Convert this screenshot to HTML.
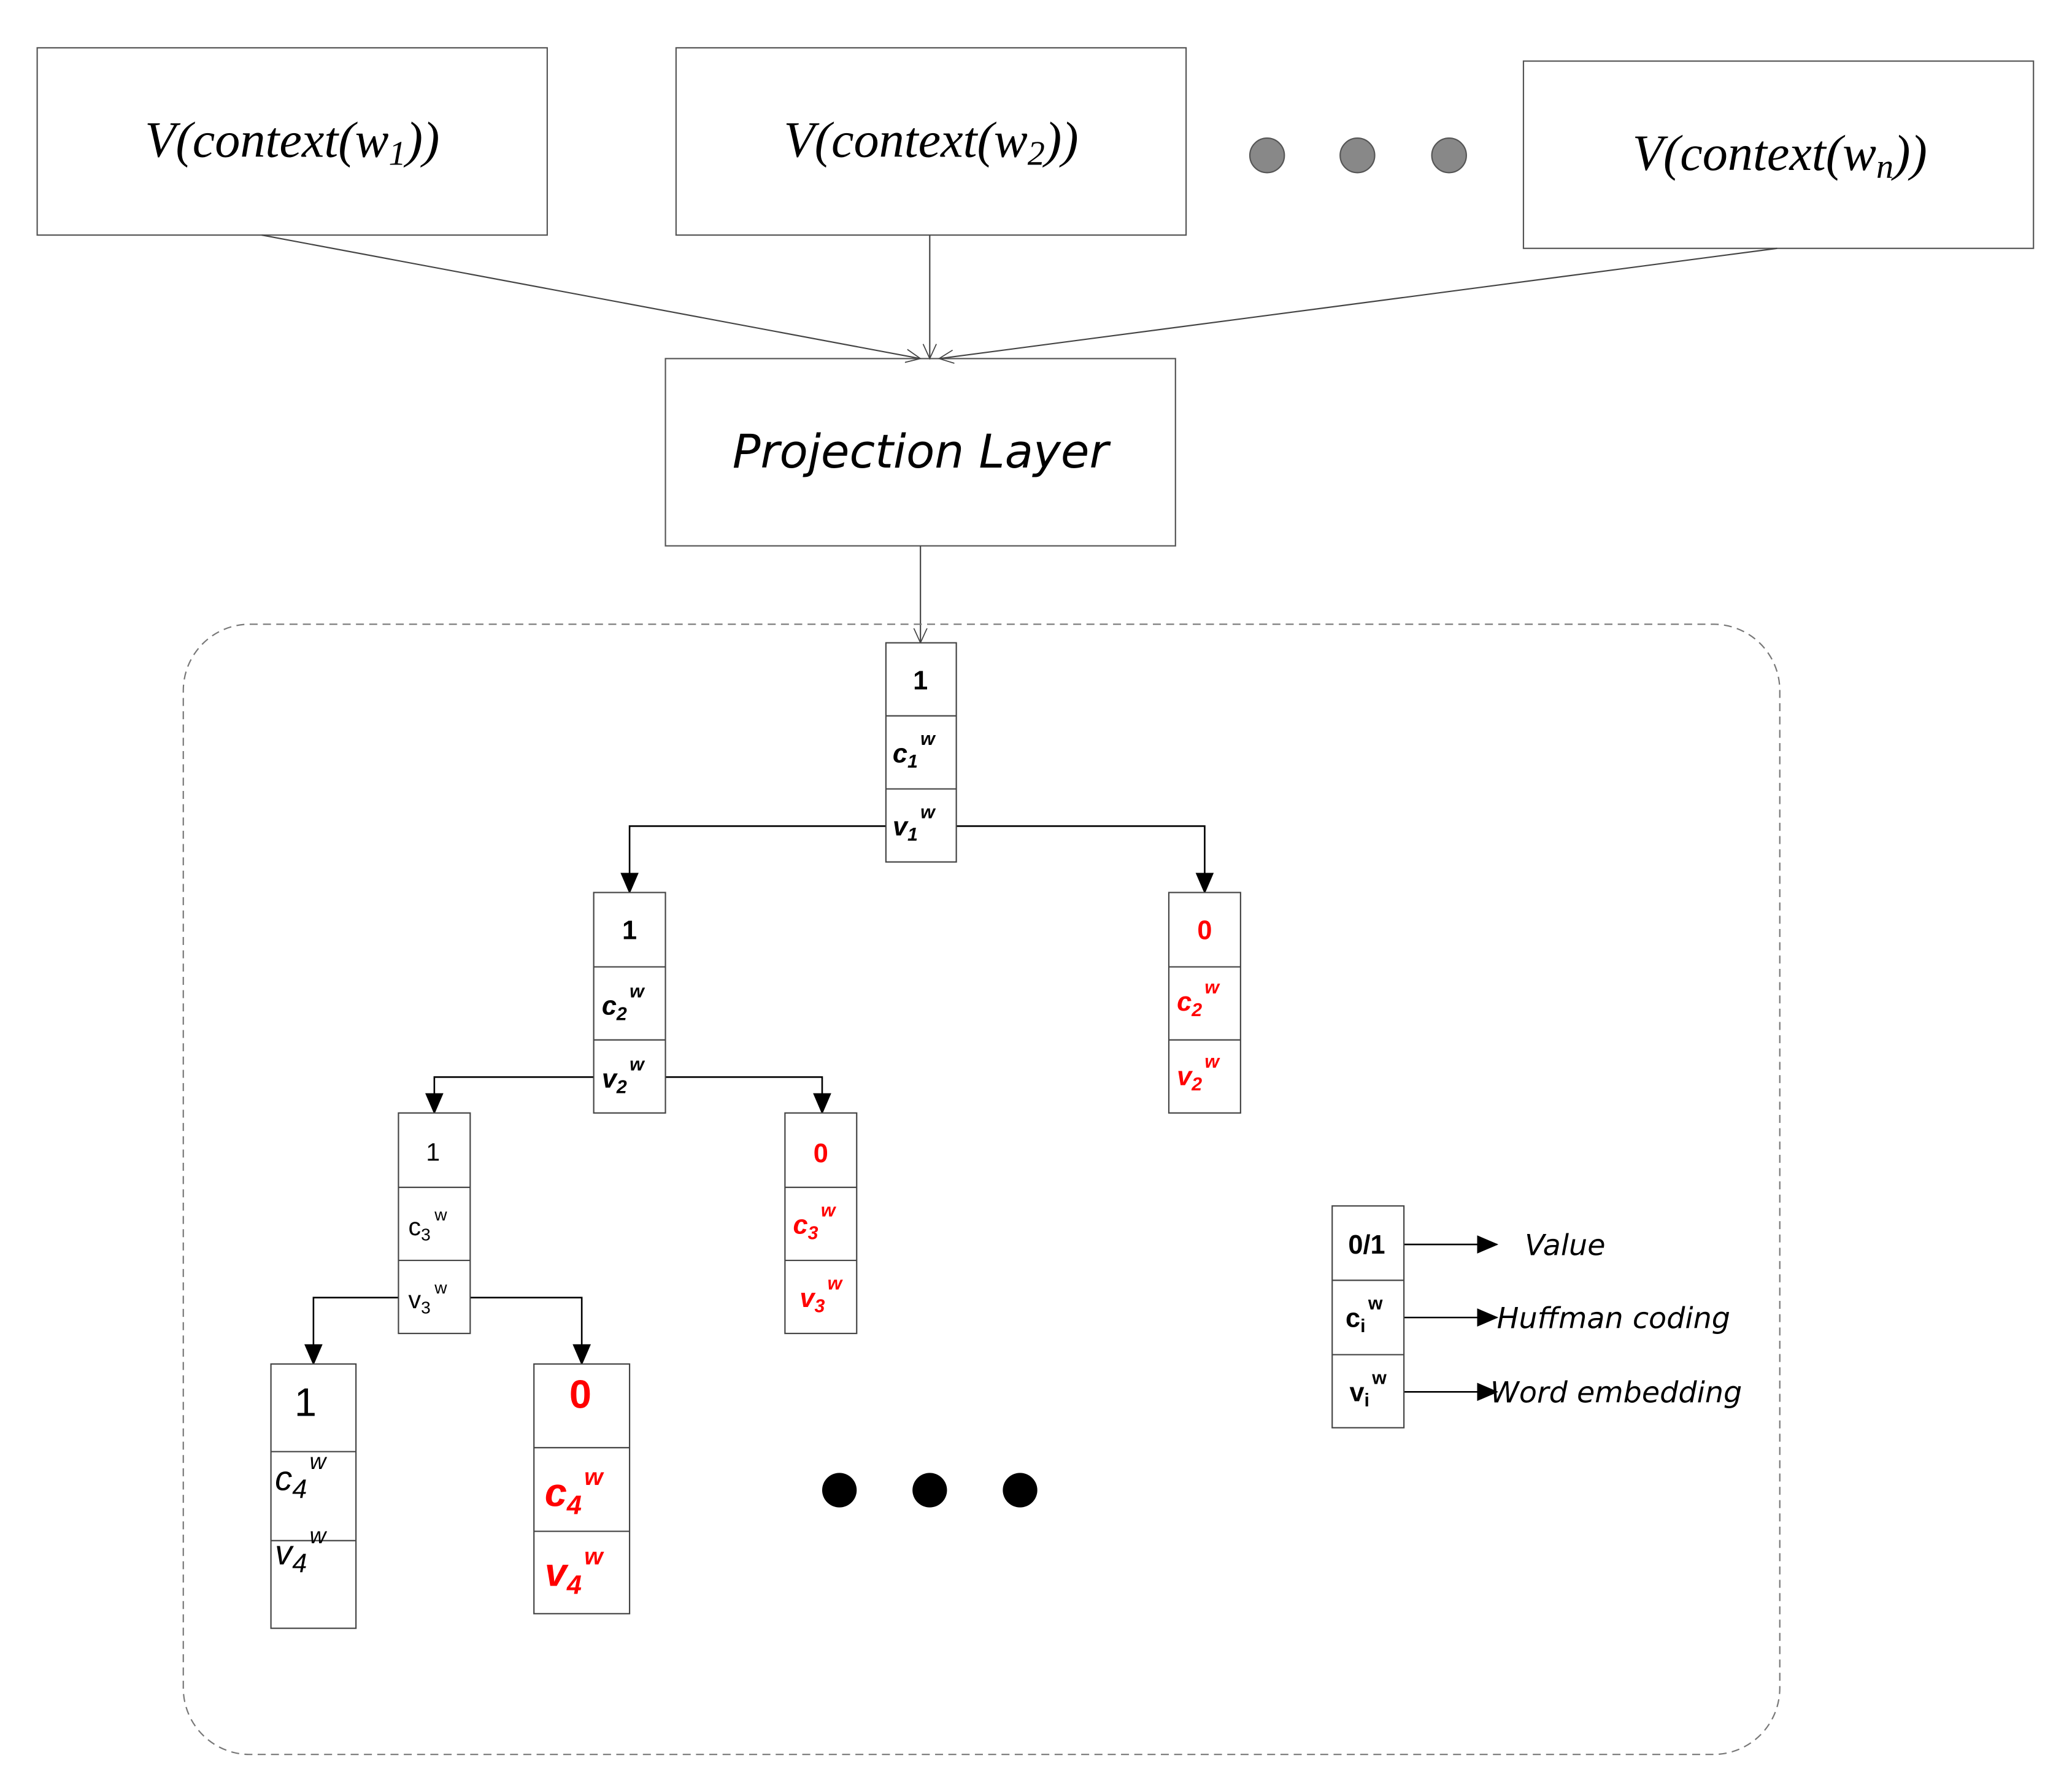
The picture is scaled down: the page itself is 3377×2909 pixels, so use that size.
<!DOCTYPE html>
<html><head><meta charset="utf-8"><style>html,body{margin:0;padding:0;background:#fff}svg{display:block}</style></head>
<body>
<svg width="3377" height="2909" viewBox="0 0 1560 1344" preserveAspectRatio="none" xmlns="http://www.w3.org/2000/svg">
<defs>
<marker id="open" viewBox="0 0 12 12" refX="11" refY="6" markerWidth="12" markerHeight="12" markerUnits="userSpaceOnUse" orient="auto"><path d="M0,1 L11,6 L0,11" fill="none" stroke="#444" stroke-width="0.8"/></marker>
<marker id="solid" viewBox="0 0 14 14" refX="13" refY="7" markerWidth="16" markerHeight="16" markerUnits="userSpaceOnUse" orient="auto"><path d="M0,1 L14,7 L0,13 z" fill="#000"/></marker>
</defs>
<g fill="#fff" stroke="#555" stroke-width="1">
<rect x="28" y="36" width="384" height="141"/>
<rect x="509" y="36" width="384" height="141"/>
<rect x="1147" y="46" width="384" height="141"/>
<rect x="501" y="270" width="384" height="141"/>
</g>
<g font-family="Liberation Serif, serif" font-style="italic" font-size="38" text-anchor="middle" fill="#000">
<text x="220" y="118">V(context(w<tspan font-size="26" dy="6">1</tspan><tspan dy="-6">))</tspan></text>
<text x="701" y="118">V(context(w<tspan font-size="26" dy="6">2</tspan><tspan dy="-6">))</tspan></text>
<text x="1340" y="128">V(context(w<tspan font-size="26" dy="6">n</tspan><tspan dy="-6">))</tspan></text>
</g>
<text x="693" y="352" font-family="DejaVu Sans, sans-serif" font-style="italic" font-size="35" text-anchor="middle">Projection Layer</text>
<g fill="#888" stroke="#555"><circle cx="954" cy="117" r="13"/><circle cx="1022" cy="117" r="13"/><circle cx="1091" cy="117" r="13"/></g>
<g stroke="#444" stroke-width="1" fill="none">
<line x1="197" y1="177" x2="693" y2="270" marker-end="url(#open)"/>
<line x1="700" y1="177" x2="700" y2="270" marker-end="url(#open)"/>
<line x1="1338" y1="187" x2="707" y2="270" marker-end="url(#open)"/>
<line x1="693" y1="411" x2="693" y2="484" marker-end="url(#open)"/>
</g>
<rect x="138" y="470" width="1202" height="851" rx="50" fill="none" stroke="#777" stroke-dasharray="6,4"/>
<g stroke="#000" stroke-width="1.2" fill="none">
<polyline points="667,622 474,622 474,672" marker-end="url(#solid)"/>
<polyline points="720,622 907,622 907,672" marker-end="url(#solid)"/>
<polyline points="447,811 327,811 327,838" marker-end="url(#solid)"/>
<polyline points="501,811 619,811 619,838" marker-end="url(#solid)"/>
<polyline points="300,977 236,977 236,1027" marker-end="url(#solid)"/>
<polyline points="354,977 438,977 438,1027" marker-end="url(#solid)"/>
<line x1="1057" y1="937" x2="1127" y2="937" marker-end="url(#solid)"/>
<line x1="1057" y1="992" x2="1127" y2="992" marker-end="url(#solid)"/>
<line x1="1057" y1="1048" x2="1127" y2="1048" marker-end="url(#solid)"/>
</g>
<g fill="#fff" stroke="#444" stroke-width="1">
<rect x="667" y="484" width="53" height="165"/><line x1="667" y1="539" x2="720" y2="539"/><line x1="667" y1="594" x2="720" y2="594"/>
<rect x="447" y="672" width="54" height="166"/><line x1="447" y1="728" x2="501" y2="728"/><line x1="447" y1="783" x2="501" y2="783"/>
<rect x="880" y="672" width="54" height="166"/><line x1="880" y1="728" x2="934" y2="728"/><line x1="880" y1="783" x2="934" y2="783"/>
<rect x="300" y="838" width="54" height="166"/><line x1="300" y1="894" x2="354" y2="894"/><line x1="300" y1="949" x2="354" y2="949"/>
<rect x="591" y="838" width="54" height="166"/><line x1="591" y1="894" x2="645" y2="894"/><line x1="591" y1="949" x2="645" y2="949"/>
<rect x="204" y="1027" width="64" height="199"/><line x1="204" y1="1093" x2="268" y2="1093"/><line x1="204" y1="1160" x2="268" y2="1160"/>
<rect x="402" y="1027" width="72" height="188"/><line x1="402" y1="1090" x2="474" y2="1090"/><line x1="402" y1="1153" x2="474" y2="1153"/>
<rect x="1003" y="908" width="54" height="167"/><line x1="1003" y1="964" x2="1057" y2="964"/><line x1="1003" y1="1020" x2="1057" y2="1020"/>
</g>
<g font-family="Liberation Sans, sans-serif" font-size="20" font-weight="bold" text-anchor="middle">
<text x="693" y="519">1</text>
<text x="688" y="574" font-style="italic">c<tspan font-size="14" dy="4">1</tspan><tspan font-size="14" dy="-17" dx="2">w</tspan></text>
<text x="688" y="629" font-style="italic">v<tspan font-size="14" dy="4">1</tspan><tspan font-size="14" dy="-17" dx="2">w</tspan></text>
<text x="474" y="707">1</text>
<text x="469" y="764" font-style="italic">c<tspan font-size="14" dy="4">2</tspan><tspan font-size="14" dy="-17" dx="2">w</tspan></text>
<text x="469" y="819" font-style="italic">v<tspan font-size="14" dy="4">2</tspan><tspan font-size="14" dy="-17" dx="2">w</tspan></text>
<g fill="#f00">
<text x="907" y="707">0</text>
<text x="902" y="761" font-style="italic">c<tspan font-size="14" dy="4">2</tspan><tspan font-size="14" dy="-17" dx="2">w</tspan></text>
<text x="902" y="817" font-style="italic">v<tspan font-size="14" dy="4">2</tspan><tspan font-size="14" dy="-17" dx="2">w</tspan></text>
<text x="618" y="875">0</text>
<text x="613" y="929" font-style="italic">c<tspan font-size="14" dy="4">3</tspan><tspan font-size="14" dy="-17" dx="2">w</tspan></text>
<text x="618" y="984" font-style="italic">v<tspan font-size="14" dy="4">3</tspan><tspan font-size="14" dy="-17" dx="2">w</tspan></text>
<text x="437" y="1060" font-size="30">0</text>
<text x="432" y="1134" font-size="30" font-style="italic">c<tspan font-size="20" dy="6">4</tspan><tspan font-size="18" dy="-22" dx="2">w</tspan></text>
<text x="432" y="1194" font-size="30" font-style="italic">v<tspan font-size="20" dy="6">4</tspan><tspan font-size="18" dy="-22" dx="2">w</tspan></text>
</g>
<text x="1029" y="944">0/1</text>
<text x="1027" y="999">c<tspan font-size="14" dy="4">i</tspan><tspan font-size="14" dy="-17" dx="2">w</tspan></text>
<text x="1030" y="1055">v<tspan font-size="14" dy="4">i</tspan><tspan font-size="14" dy="-17" dx="2">w</tspan></text>
</g>
<g font-family="Liberation Sans, sans-serif" font-size="19" text-anchor="middle">
<text x="326" y="874">1</text>
<text x="322" y="930">c<tspan font-size="13" dy="4">3</tspan><tspan font-size="13" dy="-15" dx="3">w</tspan></text>
<text x="322" y="985">v<tspan font-size="13" dy="4">3</tspan><tspan font-size="13" dy="-15" dx="3">w</tspan></text>
<text x="230" y="1066" font-size="30">1</text>
</g>
<g font-family="Liberation Sans, sans-serif" font-size="26" font-style="italic">
<text x="207" y="1122">c<tspan font-size="20" dy="6">4</tspan><tspan font-size="17" dy="-22" dx="2">w</tspan></text>
<text x="207" y="1178">v<tspan font-size="20" dy="6">4</tspan><tspan font-size="17" dy="-22" dx="2">w</tspan></text>
</g>
<g fill="#000"><circle cx="632" cy="1122" r="13"/><circle cx="700" cy="1122" r="13"/><circle cx="768" cy="1122" r="13"/></g>
<g font-family="DejaVu Sans, sans-serif" font-style="italic" font-size="22">
<text x="1148" y="945">Value</text>
<text x="1127" y="1000">Huffman coding</text>
<text x="1122" y="1056">Word embedding</text>
</g>
</svg>
</body></html>
